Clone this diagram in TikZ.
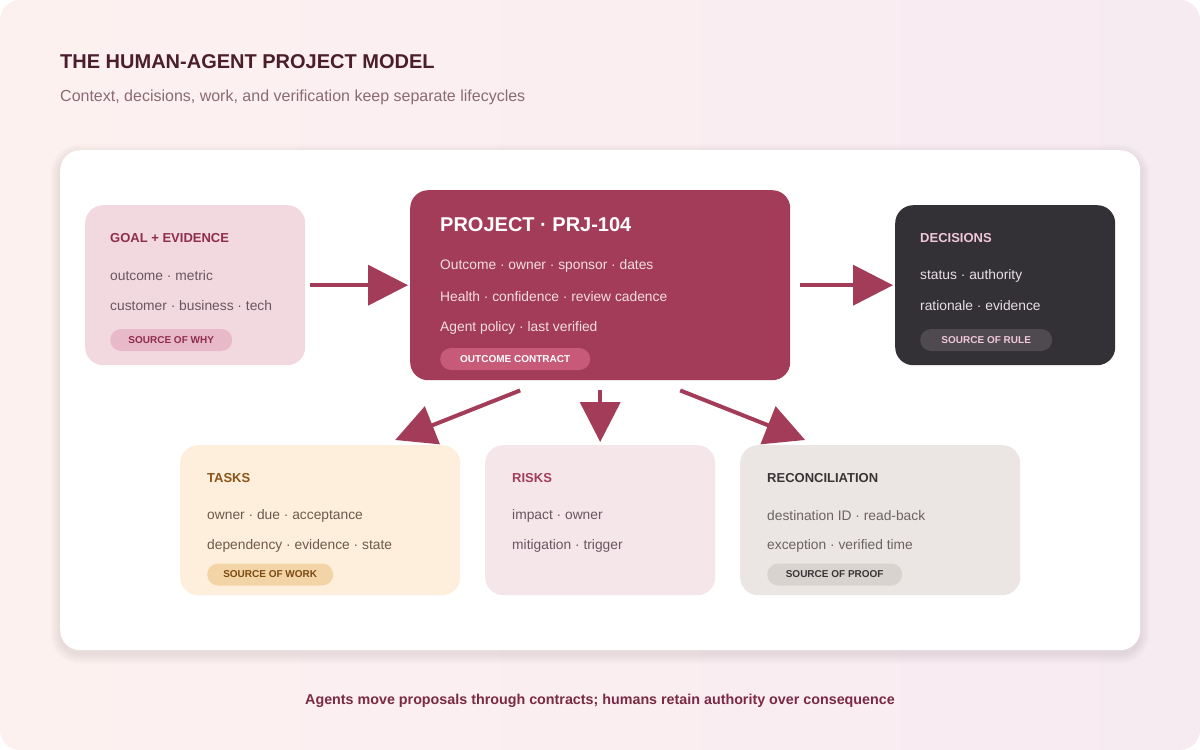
\documentclass[tikz,border=0pt]{standalone}
\usepackage{fontspec}
\setmainfont{Liberation Sans}
\usetikzlibrary{arrows.meta,calc}
\definecolor{bgL}{HTML}{FDF1F0}
\definecolor{bgR}{HTML}{F7EBF2}
\definecolor{wine}{HTML}{A33C58}
\definecolor{titlec}{HTML}{4A1E2C}
\definecolor{subc}{HTML}{8A6A76}
\definecolor{footc}{HTML}{7A2A44}
\definecolor{goalfill}{HTML}{F2D9E0}
\definecolor{goaltitle}{HTML}{8E2D4E}
\definecolor{goalpill}{HTML}{E8B9C8}
\definecolor{bodyc}{HTML}{6B5560}
\definecolor{projline}{HTML}{F5DDE4}
\definecolor{projpill}{HTML}{C75B77}
\definecolor{decfill}{HTML}{333036}
\definecolor{dectitle}{HTML}{F0C8D8}
\definecolor{decline}{HTML}{E8E0E4}
\definecolor{decpill}{HTML}{4E4A50}
\definecolor{taskfill}{HTML}{FDEFDC}
\definecolor{tasktitle}{HTML}{8A5418}
\definecolor{taskbody}{HTML}{6E5A4A}
\definecolor{taskpill}{HTML}{F3D4A6}
\definecolor{taskpilltext}{HTML}{7A4A14}
\definecolor{riskfill}{HTML}{F5E6EA}
\definecolor{recfill}{HTML}{EBE6E3}
\definecolor{rectitle}{HTML}{3A3436}
\definecolor{recbody}{HTML}{6A6264}
\definecolor{recpill}{HTML}{D9D3D0}
\definecolor{shadowc}{HTML}{7A4A5A}
\tikzset{
  card/.style={rounded corners=18pt, draw=none, inner sep=0pt, anchor=north west},
  ctitle/.style={anchor=west, inner sep=0pt, font=\fontsize{13}{15}\selectfont\bfseries},
  cline/.style={anchor=west, inner sep=0pt, font=\fontsize{13.8}{16}\selectfont},
  pill/.style={rounded corners=11pt, inner sep=0pt, minimum height=22pt, anchor=west, font=\fontsize{10}{12}\selectfont\bfseries},
  arr/.style={draw=wine, line width=4pt, -{Triangle[length=40pt,width=40pt]}}
}
\begin{document}
\begin{tikzpicture}[x=1pt,y=-1pt]
\useasboundingbox (0,0) rectangle (1200,750);
\fill[white] (0,0) rectangle (1200,750);
\shade[left color=bgL, right color=bgR, rounded corners=20pt] (0,0) rectangle (1200,750);
% header
\node[anchor=west, inner sep=0pt, text=titlec, font=\fontsize{20}{24}\selectfont\bfseries] (title) at (60,62) {THE HUMAN-AGENT PROJECT MODEL};
\node[anchor=west, inner sep=0pt, text=subc, font=\fontsize{16}{19}\selectfont] (subtitle) at (60,97) {Context, decisions, work, and verification keep separate lifecycles};
% soft shadow of panel
\foreach \i in {1,...,10} {
  \fill[shadowc, opacity=0.012, rounded corners=20pt+\i pt] (60-\i,154-\i) rectangle (1140+\i,654+\i);
}
% panel
\node[card, fill=white, rounded corners=20pt, minimum width=1080pt, minimum height=500pt] (panel) at (60,150) {};
% goal
\node[card, fill=goalfill, minimum width=220pt, minimum height=160pt] (goal) at (85,205) {};
\node[ctitle, text=goaltitle] (goalt) at (110,238) {GOAL + EVIDENCE};
\node[cline, text=bodyc] (goal1) at (110,276) {outcome · metric};
\node[cline, text=bodyc] (goal2) at (110,306) {customer · business · tech};
\node[pill, fill=goalpill, text=goaltitle, minimum width=122pt] (goalp) at (110,340) {SOURCE OF WHY};
% project
\node[card, fill=wine, minimum width=380pt, minimum height=190pt] (project) at (410,190) {};
\node[anchor=west, inner sep=0pt, text=white, font=\fontsize{20}{24}\selectfont\bfseries] (projt) at (440,225) {PROJECT · PRJ-104};
\node[cline, text=projline] (proj1) at (440,266) {Outcome · owner · sponsor · dates};
\node[cline, text=projline] (proj2) at (440,297) {Health · confidence · review cadence};
\node[cline, text=projline] (proj3) at (440,328) {Agent policy · last verified};
\node[pill, fill=projpill, text=white, minimum width=150pt] (projp) at (440,359) {OUTCOME CONTRACT};
% decisions
\node[card, fill=decfill, minimum width=220pt, minimum height=160pt] (dec) at (895,205) {};
\node[ctitle, text=dectitle] (dect) at (920,238) {DECISIONS};
\node[cline, text=decline] (dec1) at (920,276) {status · authority};
\node[cline, text=decline] (dec2) at (920,306) {rationale · evidence};
\node[pill, fill=decpill, text=dectitle, minimum width=132pt] (decp) at (920,340) {SOURCE OF RULE};
% tasks
\node[card, fill=taskfill, minimum width=280pt, minimum height=150pt] (tasks) at (180,445) {};
\node[ctitle, text=tasktitle] (taskt) at (207,478) {TASKS};
\node[cline, text=taskbody] (task1) at (207,516) {owner · due · acceptance};
\node[cline, text=taskbody] (task2) at (207,546) {dependency · evidence · state};
\node[pill, fill=taskpill, text=taskpilltext, minimum width=126pt] (taskp) at (207,574.5) {SOURCE OF WORK};
% risks
\node[card, fill=riskfill, minimum width=230pt, minimum height=150pt] (risks) at (485,445) {};
\node[ctitle, text=wine] (riskt) at (512,478) {RISKS};
\node[cline, text=bodyc] (risk1) at (512,516) {impact · owner};
\node[cline, text=bodyc] (risk2) at (512,546) {mitigation · trigger};
% reconciliation
\node[card, fill=recfill, minimum width=280pt, minimum height=150pt] (rec) at (740,445) {};
\node[ctitle, text=rectitle] (rect) at (767,478) {RECONCILIATION};
\node[cline, text=recbody] (rec1) at (767,516) {destination ID · read-back};
\node[cline, text=recbody] (rec2) at (767,546) {exception · verified time};
\node[pill, fill=recpill, text=rectitle, minimum width=135pt] (recp) at (767,574.5) {SOURCE OF PROOF};
% arrows
\draw[arr] ($(goal.east)+(5,0)$) -- ($(project.west)+(-2,0)$);
\draw[arr] ($(project.east)+(10,0)$) -- ($(dec.west)+(-2,0)$);
\draw[arr] ($(project.south)+(-80,10)$) -- ($(tasks.north)+(75,-5)$);
\draw[arr] ($(project.south)+(0,10)$) -- ($(risks.north)+(0,-3)$);
\draw[arr] ($(project.south)+(80,10)$) -- ($(rec.north)+(-75,-5)$);
% footer
\node[inner sep=0pt, text=footc, font=\fontsize{14.3}{17}\selectfont\bfseries] (footer) at (600,701) {Agents move proposals through contracts; humans retain authority over consequence};
\end{tikzpicture}
\end{document}
